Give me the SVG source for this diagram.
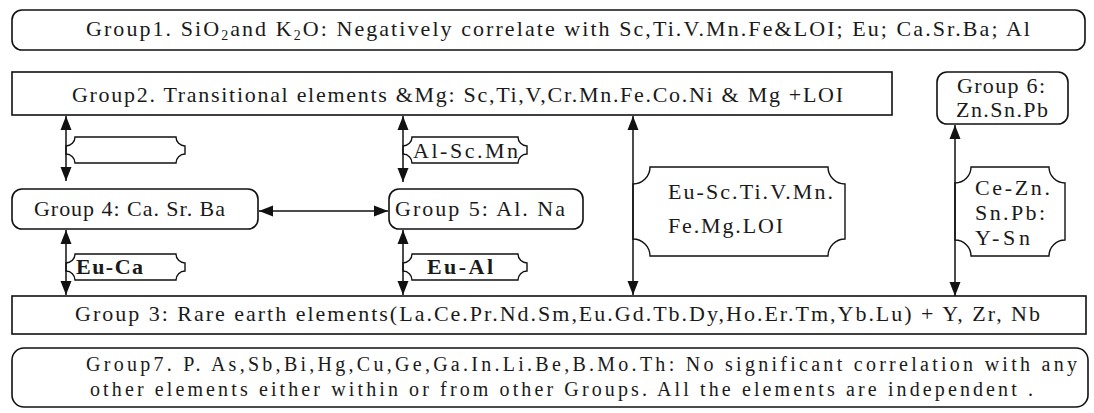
<svg xmlns="http://www.w3.org/2000/svg" width="1094" height="413" viewBox="0 0 1094 413">
<style>
text{font-family:"Liberation Serif","Times New Roman",serif;fill:#1a1a1a;font-size:22px}
.box{fill:#fff;stroke:#111;stroke-width:1.6}
.lab{fill:#fff;stroke:#111;stroke-width:1.4}
.c{stroke:#111;stroke-width:1.5;fill:none}
.b{font-weight:bold}
.g7{font-size:20px}
</style>
<defs>
<marker id="ah" markerUnits="userSpaceOnUse" markerWidth="14" markerHeight="12" refX="14" refY="6" orient="auto-start-reverse">
<path d="M0,0.5 L14,6 L0,11.5 z" fill="#111"/>
</marker>
</defs>
<rect width="1094" height="413" fill="#fff"/>

<g id="group1">
<rect class="box" x="12" y="10" width="1073" height="40" rx="10"/>
<text x="86" y="36" textLength="944" lengthAdjust="spacing">Group1. SiO<tspan font-size="14" dy="4">2</tspan><tspan dy="-4">and K</tspan><tspan font-size="14" dy="4">2</tspan><tspan dy="-4">O: Negatively correlate with Sc,Ti.V.Mn.Fe&amp;LOI; Eu; Ca.Sr.Ba; Al</tspan></text>
</g>

<g id="group2">
<rect class="box" x="12" y="72" width="880" height="43"/>
<text x="72" y="102" textLength="771" lengthAdjust="spacing">Group2. Transitional elements &amp;Mg: Sc,Ti,V,Cr.Mn.Fe.Co.Ni &amp; Mg +LOI</text>
</g>

<g id="group6">
<rect class="box" x="937" y="72" width="131" height="52" rx="10"/>
<text x="957" y="93" textLength="88" lengthAdjust="spacing">Group 6:</text>
<text x="956" y="117" textLength="92" lengthAdjust="spacing">Zn.Sn.Pb</text>
</g>

<g id="group4">
<rect class="box" x="12" y="189" width="246" height="40" rx="10"/>
<text x="34" y="216" textLength="191" lengthAdjust="spacing">Group 4: Ca. Sr. Ba</text>
</g>

<g id="group5">
<rect class="box" x="389" y="189" width="194" height="40" rx="10"/>
<text x="395" y="216" textLength="170" lengthAdjust="spacing">Group 5: Al. Na</text>
</g>

<g id="group3">
<rect class="box" x="12" y="296" width="1074" height="38"/>
<text x="75" y="321" textLength="965" lengthAdjust="spacing">Group 3: Rare earth elements(La.Ce.Pr.Nd.Sm,Eu.Gd.Tb.Dy,Ho.Er.Tm,Yb.Lu)  + Y, Zr, Nb</text>
</g>

<g id="group7">
<rect class="box" x="12" y="348" width="1076" height="59" rx="12"/>
<text class="g7" x="86" y="371" textLength="991" lengthAdjust="spacing">Group7. P. As,Sb,Bi,Hg,Cu,Ge,Ga.In.Li.Be,B.Mo.Th: No significant correlation with any</text>
<text class="g7" x="90" y="396" textLength="943" lengthAdjust="spacing">other elements either within or from other Groups. All the elements are  independent .</text>
</g>

<g id="connectors">
<path class="lab" d="M66,146 A9,9 0 0 0 75,137 H176 A9,9 0 0 0 185,146 V154 A9,9 0 0 0 176,163 H75 A9,9 0 0 0 66,154 Z"/>
<path class="lab" d="M403,146 A9,9 0 0 0 412,137 H518 A9,9 0 0 0 527,146 V154 A9,9 0 0 0 518,163 H412 A9,9 0 0 0 403,154 Z"/>
<text x="413" y="158" textLength="105" lengthAdjust="spacing">Al-Sc.Mn</text>
<path class="lab" d="M66,263 A9,9 0 0 0 75,254 H176 A9,9 0 0 0 185,263 V271 A9,9 0 0 0 176,280 H75 A9,9 0 0 0 66,271 Z"/>
<text class="b" x="76" y="274" textLength="67" lengthAdjust="spacing">Eu-Ca</text>
<path class="lab" d="M403,263 A9,9 0 0 0 412,254 H518 A9,9 0 0 0 527,263 V271 A9,9 0 0 0 518,280 H412 A9,9 0 0 0 403,271 Z"/>
<text class="b" x="427" y="274" textLength="66" lengthAdjust="spacing">Eu-Al</text>
<path class="lab" d="M633,184 A17,17 0 0 0 650,167 H828 A17,17 0 0 0 845,184 V239 A17,17 0 0 0 828,256 H650 A17,17 0 0 0 633,239 Z"/>
<text x="668" y="199" textLength="165" lengthAdjust="spacing">Eu-Sc.Ti.V.Mn.</text>
<text x="668" y="233" textLength="115" lengthAdjust="spacing">Fe.Mg.LOI</text>
<path class="lab" d="M955,183 A16,16 0 0 0 971,167 H1049 A16,16 0 0 0 1065,183 V240 A16,16 0 0 0 1049,256 H971 A16,16 0 0 0 955,240 Z"/>
<text x="975" y="195" textLength="75" lengthAdjust="spacing">Ce-Zn.</text>
<text x="975" y="220" textLength="70" lengthAdjust="spacing">Sn.Pb:</text>
<text x="975" y="245" textLength="55" lengthAdjust="spacing">Y-Sn</text>
<line class="c" x1="66" y1="116" x2="66" y2="181" marker-start="url(#ah)" marker-end="url(#ah)"/>
<line class="c" x1="403" y1="116" x2="403" y2="182" marker-start="url(#ah)" marker-end="url(#ah)"/>
<line class="c" x1="66" y1="230" x2="66" y2="295" marker-start="url(#ah)" marker-end="url(#ah)"/>
<line class="c" x1="403" y1="230" x2="403" y2="295" marker-start="url(#ah)" marker-end="url(#ah)"/>
<line class="c" x1="633" y1="116" x2="633" y2="295" marker-start="url(#ah)" marker-end="url(#ah)"/>
<line class="c" x1="955" y1="125" x2="955" y2="296" marker-start="url(#ah)" marker-end="url(#ah)"/>
<line class="c" x1="259" y1="211" x2="388" y2="211" marker-start="url(#ah)" marker-end="url(#ah)"/>
</g>
</svg>
